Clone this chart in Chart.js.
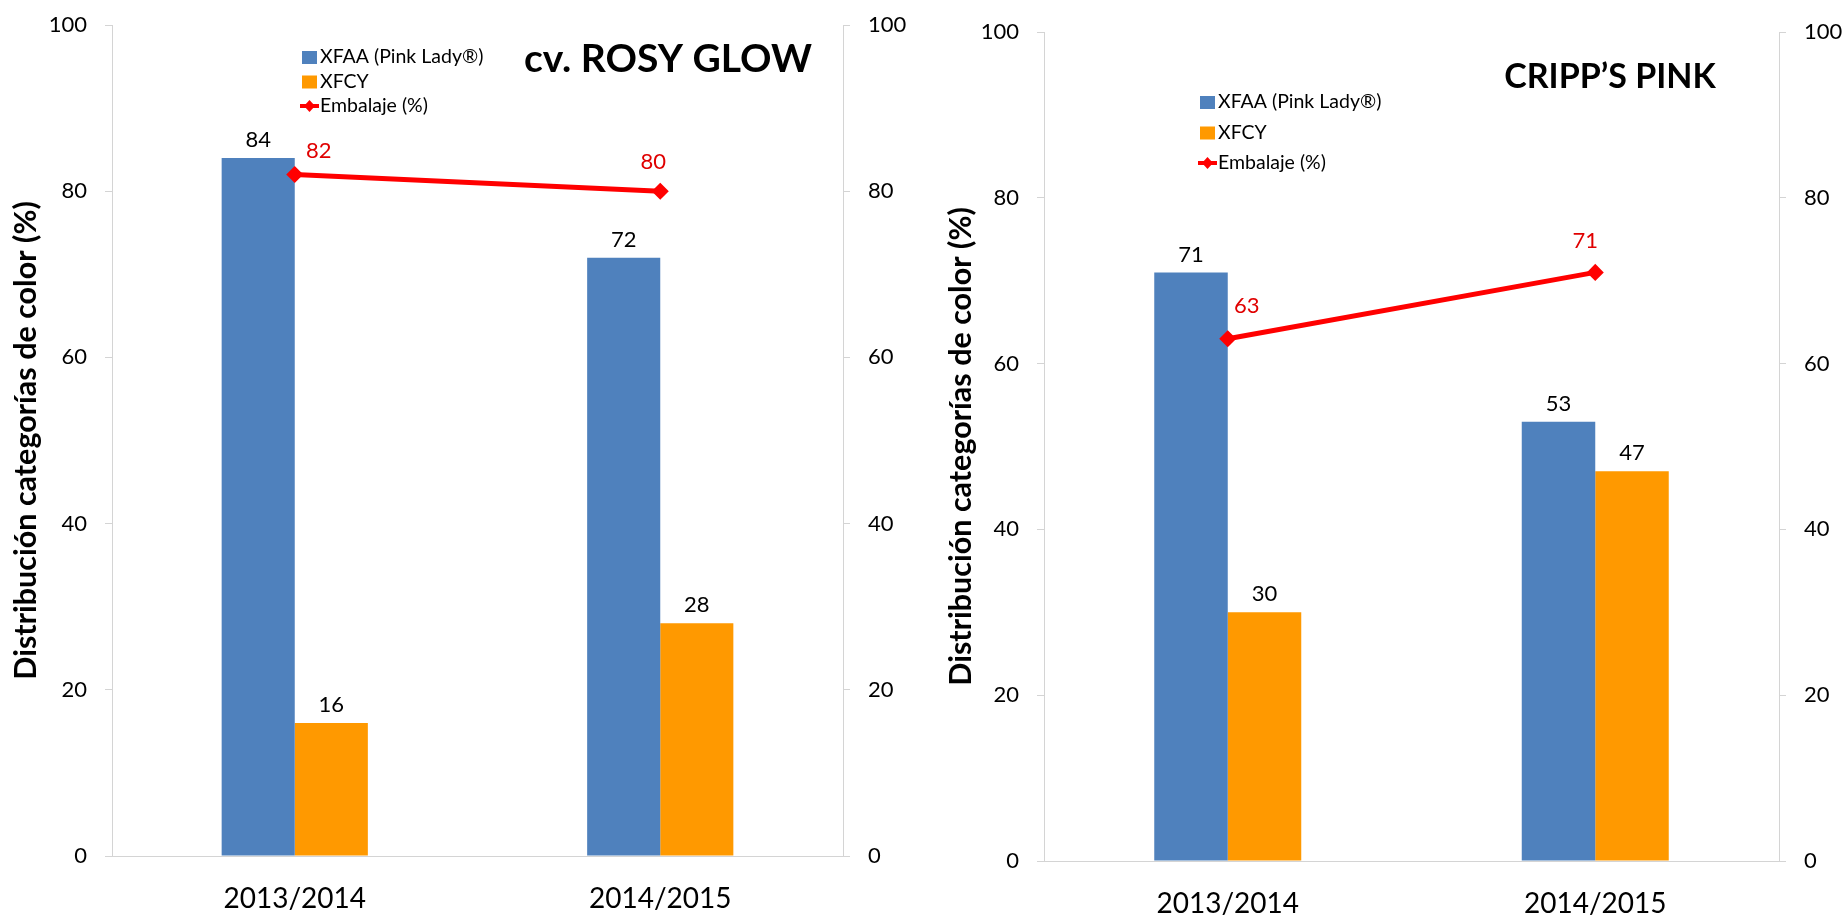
<!DOCTYPE html>
<html>
<head>
<meta charset="utf-8">
<script src="https://cdn.jsdelivr.net/npm/chart.js@4.4.1/dist/chart.umd.min.js"></script>
<style>
    html, body { margin: 0; padding: 0; background: #fff; }
    body { width: 1845px; height: 917px; position: relative; overflow: hidden; }
    canvas { position: absolute; top: 0; }
    #rosy { left: 0; }
    #cripps { left: 922px; }
</style>
</head>
<body>
<canvas id="rosy" width="922" height="917"></canvas>
<canvas id="cripps" width="923" height="917"></canvas>
<script>
// --- datos ---
const seasons = ['2013/2014', '2014/2015'];
const seriesNames = ['XFAA (Pink Lady®)', 'XFCY', 'Embalaje (%)'];
const yTicks = [0, 20, 40, 60, 80, 100];

const rosyXFAA = [84, 72];
const rosyXFCY = [16, 28];
const rosyEmbalaje = [82, 80];

const crippsXFAA = [71, 53];
const crippsXFCY = [30, 47];
const crippsEmbalaje = [63, 71];

const BLUE = '#4F81BD';
const ORANGE = '#FF9900';
const RED = '#FF0000';
const LABEL_RED = '#E00000';
const AXIS_GRAY = '#d4d4d4';
const FONT = 'Lato';

// etiquetas de valor sobre barras y puntos
const valueLabels = {
    id: 'valueLabels',
    afterDatasetsDraw(chart, args, opts) {
        const ctx = chart.ctx;
        ctx.save();
        ctx.font = `22px ${FONT}`;
        ctx.textAlign = 'center';
        ctx.textBaseline = 'middle';
        chart.data.datasets.forEach((ds, i) => {
            const meta = chart.getDatasetMeta(i);
            meta.data.forEach((el, j) => {
                let dx = 0, dy = opts.barGap;
                if (ds.type === 'line') {
                    [dx, dy] = opts.lineOffsets[j];
                    ctx.fillStyle = LABEL_RED;
                } else {
                    ctx.fillStyle = '#000';
                }
                ctx.fillText(ds.data[j], el.x + dx, el.y + dy);
            });
        });
        ctx.restore();
    }
};

// titulo del cultivar + leyenda dentro del grafico
const panelDecor = {
    id: 'panelDecor',
    afterDraw(chart, args, opts) {
        const ctx = chart.ctx;
        ctx.save();
        ctx.fillStyle = '#000';
        ctx.font = `bold ${opts.titleSize}px ${FONT}`;
        ctx.textAlign = 'center';
        ctx.textBaseline = 'middle';
        ctx.fillText(opts.title, opts.titleX, opts.titleY);

        ctx.font = `19.5px ${FONT}`;
        ctx.textAlign = 'left';
        chart.data.datasets.forEach((ds, i) => {
            const x = opts.legendX;
            const y = opts.legendY + i * opts.legendGap;
            if (ds.type === 'line') {
                ctx.strokeStyle = ds.borderColor;
                ctx.lineWidth = 4;
                ctx.beginPath();
                ctx.moveTo(x - 2, y);
                ctx.lineTo(x + 17, y);
                ctx.stroke();
                ctx.fillStyle = ds.borderColor;
                ctx.beginPath();
                ctx.moveTo(x + 7.5, y - 6);
                ctx.lineTo(x + 13, y);
                ctx.lineTo(x + 7.5, y + 6);
                ctx.lineTo(x + 2, y);
                ctx.closePath();
                ctx.fill();
            } else {
                ctx.fillStyle = ds.backgroundColor;
                ctx.fillRect(x, y - 6, 15, 13);
            }
            ctx.fillStyle = '#000';
            ctx.fillText(ds.label, x + 18, y);
        });
        ctx.restore();
    }
};

function yScale(position, width, titlePad) {
    return {
        position: position,
        min: 0,
        max: 100,
        afterBuildTicks: s => { s.ticks = yTicks.map(v => ({ value: v })); },
        afterFit: s => { s.width = width; s.paddingTop = 0; s.paddingBottom = 0; },
        grid: { drawOnChartArea: false, drawTicks: true, tickLength: 7, color: AXIS_GRAY },
        border: { display: true, color: AXIS_GRAY, dash: [2, 2] },
        ticks: { color: '#000', font: { family: FONT, size: 22 }, padding: 18 },
        title: {
            display: titlePad !== null,
            text: 'Distribución categorías de color (%)',
            color: '#000',
            font: { family: FONT, size: 30.5, weight: 'bold' },
            padding: { top: titlePad || 0, bottom: 0 }
        }
    };
}

function makePanel(id, xfaa, xfcy, emb, cfg) {
    return new Chart(document.getElementById(id), {
        type: 'bar',
        data: {
            labels: seasons,
            datasets: [
                { label: seriesNames[0], data: xfaa, backgroundColor: BLUE, order: 1, yAxisID: 'y' },
                { label: seriesNames[1], data: xfcy, backgroundColor: ORANGE, order: 1, yAxisID: 'y' },
                {
                    type: 'line', label: seriesNames[2], data: emb, yAxisID: 'y2', order: 0,
                    borderColor: RED, backgroundColor: RED, borderWidth: 5,
                    pointStyle: 'rectRot', pointRadius: 5, pointBackgroundColor: RED, pointBorderColor: RED
                }
            ]
        },
        options: {
            responsive: false,
            animation: false,
            devicePixelRatio: 1,
            layout: { padding: { top: cfg.top, left: 0, right: 0, bottom: 0 } },
            datasets: { bar: { categoryPercentage: 0.4, barPercentage: 1 } },
            plugins: {
                legend: { display: false },
                tooltip: { enabled: false },
                valueLabels: { barGap: -18, lineOffsets: cfg.lineOffsets },
                panelDecor: cfg.decor
            },
            scales: {
                x: {
                    offset: true,
                    afterFit: s => { s.height = cfg.xHeight; s.paddingLeft = 0; s.paddingRight = 0; },
                    grid: { display: false },
                    border: { display: true, color: AXIS_GRAY, dash: [2, 2] },
                    ticks: { color: '#000', font: { family: FONT, size: 28 }, padding: 18 }
                },
                y: yScale('left', cfg.leftW, cfg.titlePad),
                y2: yScale('right', cfg.rightW, null)
            }
        },
        plugins: [valueLabels, panelDecor]
    });
}

makePanel('rosy', rosyXFAA, rosyXFCY, rosyEmbalaje, {
    top: 25, xHeight: 61, leftW: 112, rightW: 79, titlePad: 7.7,
    lineOffsets: [[24, -24], [-7, -29]],
    decor: { title: 'cv. ROSY GLOW', titleSize: 39, titleX: 668, titleY: 59,
             legendX: 302, legendY: 57, legendGap: 24.5 }
});

makePanel('cripps', crippsXFAA, crippsXFCY, crippsEmbalaje, {
    top: 32, xHeight: 56, leftW: 122, rightW: 66, titlePad: 20.7,
    lineOffsets: [[19, -33], [-10, -32]],
    decor: { title: 'CRIPP’S PINK', titleSize: 34, titleX: 688, titleY: 77,
             legendX: 278, legendY: 102, legendGap: 30.5 }
});
</script>
</body>
</html>
